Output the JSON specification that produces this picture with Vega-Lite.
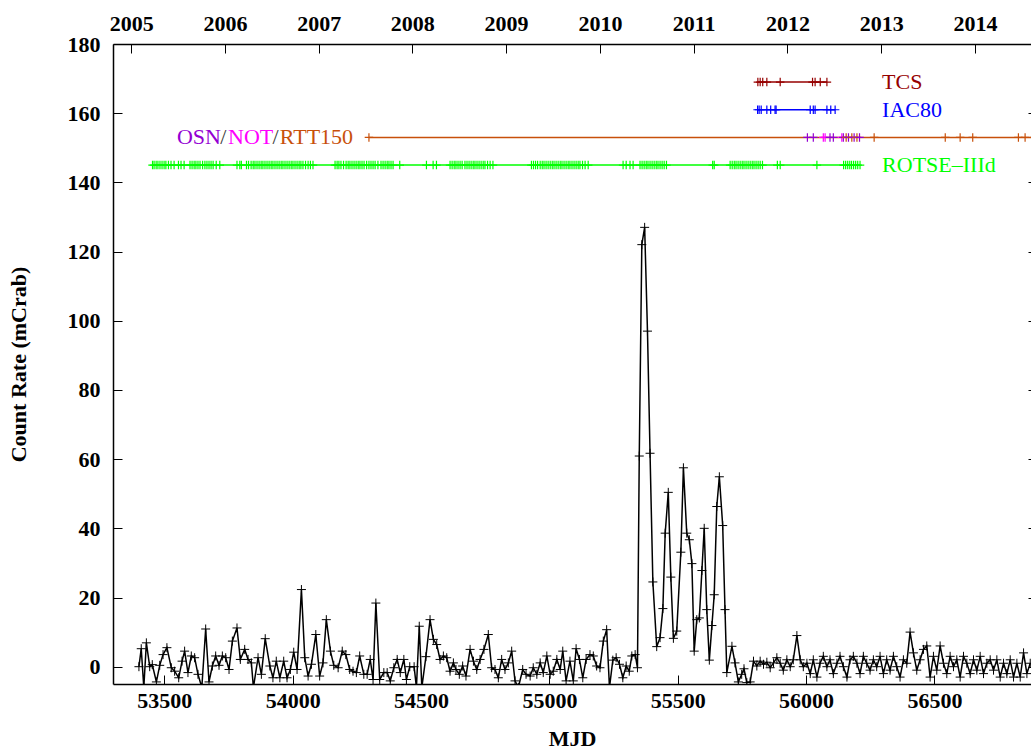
{
  "$schema": "https://vega.github.io/schema/vega-lite/v6.json",
  "width": 918,
  "height": 640,
  "autosize": "none",
  "padding": {"left": 113, "top": 44, "right": 0, "bottom": 67},
  "background": "white",
  "config": {
    "view": {"stroke": null},
    "font": "Liberation Serif",
    "axis": {
      "grid": false,
      "domainColor": "black",
      "domainWidth": 1.5,
      "tickColor": "black",
      "tickWidth": 1,
      "tickSize": -9,
      "labelFont": "Liberation Serif",
      "labelFontWeight": "bold",
      "labelFontSize": 22,
      "labelColor": "black",
      "titleFont": "Liberation Serif",
      "titleFontWeight": "bold",
      "titleFontSize": 22,
      "titleColor": "black"
    }
  },
  "datasets": {
    "lc": [
      {"mjd": 53401, "rate": 0}, {"mjd": 53410, "rate": 5.2}, {"mjd": 53420, "rate": -6}, {"mjd": 53430, "rate": 6.9},
      {"mjd": 53443, "rate": 0}, {"mjd": 53453, "rate": 0.6}, {"mjd": 53469, "rate": -4.4}, {"mjd": 53482, "rate": 0.4},
      {"mjd": 53495, "rate": 3.5}, {"mjd": 53510, "rate": 5.5}, {"mjd": 53527, "rate": -0.3}, {"mjd": 53540, "rate": -1.3},
      {"mjd": 53556, "rate": -3.2}, {"mjd": 53569, "rate": 1.6}, {"mjd": 53579, "rate": 4.5}, {"mjd": 53592, "rate": -1.7},
      {"mjd": 53605, "rate": 3.1}, {"mjd": 53618, "rate": 2.6}, {"mjd": 53631, "rate": -2.2}, {"mjd": 53646, "rate": -6},
      {"mjd": 53661, "rate": 10.9}, {"mjd": 53674, "rate": -4.4}, {"mjd": 53687, "rate": 0.2}, {"mjd": 53700, "rate": 3.1},
      {"mjd": 53713, "rate": 0.4}, {"mjd": 53726, "rate": 3.1}, {"mjd": 53739, "rate": 2.6}, {"mjd": 53752, "rate": -0.8},
      {"mjd": 53765, "rate": 7.4}, {"mjd": 53783, "rate": 11.2}, {"mjd": 53796, "rate": 2.1}, {"mjd": 53813, "rate": 5.0},
      {"mjd": 53826, "rate": 2.1}, {"mjd": 53839, "rate": 1.1}, {"mjd": 53847, "rate": -6}, {"mjd": 53865, "rate": 2.6},
      {"mjd": 53878, "rate": -2.2}, {"mjd": 53893, "rate": 8.1}, {"mjd": 53911, "rate": 0.2}, {"mjd": 53923, "rate": -3.2},
      {"mjd": 53936, "rate": 1.6}, {"mjd": 53950, "rate": -3.2}, {"mjd": 53965, "rate": 1.6}, {"mjd": 53978, "rate": -3.2},
      {"mjd": 53991, "rate": -0.8}, {"mjd": 54004, "rate": 4.2}, {"mjd": 54017, "rate": -0.8}, {"mjd": 54034, "rate": 22.3},
      {"mjd": 54047, "rate": 2.6}, {"mjd": 54060, "rate": -2.7}, {"mjd": 54073, "rate": 0.7}, {"mjd": 54090, "rate": 9.3},
      {"mjd": 54105, "rate": -2.7}, {"mjd": 54118, "rate": 1.1}, {"mjd": 54131, "rate": 13.6}, {"mjd": 54147, "rate": 4.5},
      {"mjd": 54160, "rate": 0.4}, {"mjd": 54177, "rate": -0.3}, {"mjd": 54193, "rate": 4.5}, {"mjd": 54207, "rate": 3.5},
      {"mjd": 54222, "rate": -0.8}, {"mjd": 54235, "rate": -1.3}, {"mjd": 54248, "rate": -1.7}, {"mjd": 54261, "rate": 3.1},
      {"mjd": 54277, "rate": -2.2}, {"mjd": 54290, "rate": -2.2}, {"mjd": 54302, "rate": 2.1}, {"mjd": 54313, "rate": -3.7},
      {"mjd": 54324, "rate": 18.4}, {"mjd": 54339, "rate": -3.7}, {"mjd": 54355, "rate": -1.7}, {"mjd": 54368, "rate": -1.7},
      {"mjd": 54380, "rate": -4.1}, {"mjd": 54394, "rate": -0.3}, {"mjd": 54407, "rate": 2.1}, {"mjd": 54419, "rate": -1.7},
      {"mjd": 54433, "rate": 2.1}, {"mjd": 54443, "rate": -3.7}, {"mjd": 54456, "rate": 0}, {"mjd": 54473, "rate": 0},
      {"mjd": 54482, "rate": -6}, {"mjd": 54493, "rate": 11.7}, {"mjd": 54503, "rate": -6}, {"mjd": 54519, "rate": 2.9},
      {"mjd": 54535, "rate": 13.6}, {"mjd": 54548, "rate": 7.9}, {"mjd": 54561, "rate": 6.4}, {"mjd": 54574, "rate": 2.1},
      {"mjd": 54587, "rate": 3.1}, {"mjd": 54600, "rate": 2.6}, {"mjd": 54613, "rate": -1.3}, {"mjd": 54626, "rate": 1.1},
      {"mjd": 54636, "rate": -0.8}, {"mjd": 54649, "rate": -2.2}, {"mjd": 54662, "rate": 0.2}, {"mjd": 54675, "rate": -2.7},
      {"mjd": 54691, "rate": 5.0}, {"mjd": 54704, "rate": 1.6}, {"mjd": 54717, "rate": -0.8}, {"mjd": 54730, "rate": 2.1},
      {"mjd": 54745, "rate": 5.0}, {"mjd": 54762, "rate": 9.3}, {"mjd": 54775, "rate": -0.3}, {"mjd": 54788, "rate": -0.8},
      {"mjd": 54801, "rate": -3.2}, {"mjd": 54814, "rate": 2.1}, {"mjd": 54827, "rate": -0.8}, {"mjd": 54840, "rate": 1.1},
      {"mjd": 54853, "rate": 4.5}, {"mjd": 54866, "rate": -4.1}, {"mjd": 54879, "rate": -6}, {"mjd": 54896, "rate": -0.8},
      {"mjd": 54909, "rate": -2.2}, {"mjd": 54925, "rate": -2.7}, {"mjd": 54937, "rate": -0.3}, {"mjd": 54951, "rate": -2.2},
      {"mjd": 54964, "rate": 1.1}, {"mjd": 54976, "rate": -1.7}, {"mjd": 54990, "rate": 3.1}, {"mjd": 55003, "rate": -2.2},
      {"mjd": 55015, "rate": -1.3}, {"mjd": 55029, "rate": 2.1}, {"mjd": 55042, "rate": -0.8}, {"mjd": 55052, "rate": 4.5},
      {"mjd": 55065, "rate": -4.1}, {"mjd": 55080, "rate": 1.6}, {"mjd": 55093, "rate": -4.1}, {"mjd": 55104, "rate": 5.2},
      {"mjd": 55117, "rate": 2.1}, {"mjd": 55130, "rate": -3.2}, {"mjd": 55143, "rate": 2.1}, {"mjd": 55158, "rate": 3.5},
      {"mjd": 55171, "rate": 3.1}, {"mjd": 55184, "rate": 0.2}, {"mjd": 55197, "rate": -0.3}, {"mjd": 55210, "rate": 7.4},
      {"mjd": 55223, "rate": 10.7}, {"mjd": 55234, "rate": -6}, {"mjd": 55247, "rate": 1.9}, {"mjd": 55260, "rate": 2.6},
      {"mjd": 55273, "rate": 0.7}, {"mjd": 55286, "rate": -3.2}, {"mjd": 55299, "rate": 0.2}, {"mjd": 55311, "rate": -1.3},
      {"mjd": 55321, "rate": 3.1}, {"mjd": 55334, "rate": 3.5}, {"mjd": 55343, "rate": -0.3}, {"mjd": 55350, "rate": 60.9},
      {"mjd": 55360, "rate": 122}, {"mjd": 55371, "rate": 127}, {"mjd": 55382, "rate": 97}, {"mjd": 55392, "rate": 61.7},
      {"mjd": 55403, "rate": 24.5}, {"mjd": 55418, "rate": 5.8}, {"mjd": 55431, "rate": 8.4}, {"mjd": 55442, "rate": 16.8},
      {"mjd": 55451, "rate": 38.6}, {"mjd": 55463, "rate": 50.4}, {"mjd": 55473, "rate": 25.9}, {"mjd": 55483, "rate": 8.2},
      {"mjd": 55496, "rate": 10.3}, {"mjd": 55512, "rate": 33.1}, {"mjd": 55522, "rate": 57.5}, {"mjd": 55535, "rate": 38.6},
      {"mjd": 55545, "rate": 36.7}, {"mjd": 55555, "rate": 29.8}, {"mjd": 55564, "rate": 4.5}, {"mjd": 55574, "rate": 13.6},
      {"mjd": 55584, "rate": 14.1}, {"mjd": 55594, "rate": 27.8}, {"mjd": 55603, "rate": 40}, {"mjd": 55613, "rate": 16.5},
      {"mjd": 55623, "rate": 1.9}, {"mjd": 55633, "rate": 11.9}, {"mjd": 55642, "rate": 20.8}, {"mjd": 55652, "rate": 46.3},
      {"mjd": 55662, "rate": 54.9}, {"mjd": 55675, "rate": 40.8}, {"mjd": 55684, "rate": 16.5}, {"mjd": 55691, "rate": -1.7},
      {"mjd": 55711, "rate": 5.9}, {"mjd": 55723, "rate": 1.1}, {"mjd": 55736, "rate": -4.4}, {"mjd": 55749, "rate": -2.2},
      {"mjd": 55758, "rate": -0.6}, {"mjd": 55769, "rate": -4.6}, {"mjd": 55782, "rate": -4.4}, {"mjd": 55795, "rate": 1.6},
      {"mjd": 55808, "rate": 0.2}, {"mjd": 55821, "rate": 1.6}, {"mjd": 55834, "rate": 0.7}, {"mjd": 55847, "rate": 1.3},
      {"mjd": 55860, "rate": -0.3}, {"mjd": 55873, "rate": 1.1}, {"mjd": 55886, "rate": 2.6}, {"mjd": 55899, "rate": 1},
      {"mjd": 55911, "rate": -1}, {"mjd": 55925, "rate": 2}, {"mjd": 55938, "rate": 0}, {"mjd": 55950, "rate": 2},
      {"mjd": 55964, "rate": 9}, {"mjd": 55977, "rate": 2}, {"mjd": 55989, "rate": 0}, {"mjd": 56003, "rate": 1},
      {"mjd": 56016, "rate": -2}, {"mjd": 56028, "rate": 2}, {"mjd": 56042, "rate": -3}, {"mjd": 56054, "rate": 1},
      {"mjd": 56067, "rate": 3}, {"mjd": 56081, "rate": 0}, {"mjd": 56093, "rate": 2}, {"mjd": 56106, "rate": -2},
      {"mjd": 56120, "rate": 1}, {"mjd": 56132, "rate": 3}, {"mjd": 56145, "rate": 0}, {"mjd": 56159, "rate": -3},
      {"mjd": 56171, "rate": 2}, {"mjd": 56184, "rate": 3}, {"mjd": 56198, "rate": 1}, {"mjd": 56210, "rate": -2},
      {"mjd": 56223, "rate": 3}, {"mjd": 56236, "rate": 1}, {"mjd": 56249, "rate": -1}, {"mjd": 56262, "rate": 2},
      {"mjd": 56275, "rate": 0}, {"mjd": 56288, "rate": 3}, {"mjd": 56301, "rate": -2}, {"mjd": 56314, "rate": 2},
      {"mjd": 56327, "rate": -1}, {"mjd": 56340, "rate": 3}, {"mjd": 56353, "rate": 0}, {"mjd": 56366, "rate": -3},
      {"mjd": 56379, "rate": 2}, {"mjd": 56392, "rate": 1}, {"mjd": 56405, "rate": 10}, {"mjd": 56418, "rate": 4},
      {"mjd": 56431, "rate": -1}, {"mjd": 56444, "rate": 2}, {"mjd": 56457, "rate": 5}, {"mjd": 56470, "rate": 6},
      {"mjd": 56483, "rate": -3}, {"mjd": 56496, "rate": 3}, {"mjd": 56509, "rate": -1}, {"mjd": 56522, "rate": 6},
      {"mjd": 56535, "rate": 1}, {"mjd": 56548, "rate": -2}, {"mjd": 56561, "rate": 3}, {"mjd": 56574, "rate": 0},
      {"mjd": 56587, "rate": 2}, {"mjd": 56600, "rate": -3}, {"mjd": 56613, "rate": 3}, {"mjd": 56626, "rate": 1},
      {"mjd": 56639, "rate": -2}, {"mjd": 56652, "rate": 2}, {"mjd": 56665, "rate": -1}, {"mjd": 56678, "rate": 3},
      {"mjd": 56691, "rate": -2}, {"mjd": 56704, "rate": 1}, {"mjd": 56717, "rate": 2}, {"mjd": 56730, "rate": -1},
      {"mjd": 56743, "rate": 2}, {"mjd": 56756, "rate": -3}, {"mjd": 56769, "rate": 1}, {"mjd": 56782, "rate": -2},
      {"mjd": 56795, "rate": 2}, {"mjd": 56808, "rate": -3}, {"mjd": 56821, "rate": 1}, {"mjd": 56834, "rate": -3},
      {"mjd": 56847, "rate": 4}, {"mjd": 56860, "rate": -2}, {"mjd": 56873, "rate": 1}
    ],
    "tracks": [
      {"track": "TCS", "level": 169, "lineKey": "TCS"},
      {"track": "IAC80", "level": 161, "lineKey": "IAC80"},
      {"track": "OSN/NOT/RTT150", "level": 153, "lineKey": "RTT150"},
      {"track": "ROTSE", "level": 145, "lineKey": "ROTSE"}
    ],
    "obs": [
      {"track": "TCS", "inst": "TCS", "mjd": 55812}, {"track": "TCS", "inst": "TCS", "mjd": 55821},
      {"track": "TCS", "inst": "TCS", "mjd": 55831}, {"track": "TCS", "inst": "TCS", "mjd": 55847},
      {"track": "TCS", "inst": "TCS", "mjd": 55899}, {"track": "TCS", "inst": "TCS", "mjd": 56025},
      {"track": "TCS", "inst": "TCS", "mjd": 56035}, {"track": "TCS", "inst": "TCS", "mjd": 56055},
      {"track": "TCS", "inst": "TCS", "mjd": 56081},
      {"track": "IAC80", "inst": "IAC80", "mjd": 55811}, {"track": "IAC80", "inst": "IAC80", "mjd": 55817},
      {"track": "IAC80", "inst": "IAC80", "mjd": 55825}, {"track": "IAC80", "inst": "IAC80", "mjd": 55847},
      {"track": "IAC80", "inst": "IAC80", "mjd": 55862}, {"track": "IAC80", "inst": "IAC80", "mjd": 55879},
      {"track": "IAC80", "inst": "IAC80", "mjd": 55883}, {"track": "IAC80", "inst": "IAC80", "mjd": 56016},
      {"track": "IAC80", "inst": "IAC80", "mjd": 56028}, {"track": "IAC80", "inst": "IAC80", "mjd": 56035},
      {"track": "IAC80", "inst": "IAC80", "mjd": 56081}, {"track": "IAC80", "inst": "IAC80", "mjd": 56096},
      {"track": "IAC80", "inst": "IAC80", "mjd": 56113},
      {"track": "OSN/NOT/RTT150", "inst": "RTT150", "mjd": 54297},
      {"track": "OSN/NOT/RTT150", "inst": "OSN", "mjd": 56005}, {"track": "OSN/NOT/RTT150", "inst": "OSN", "mjd": 56028},
      {"track": "OSN/NOT/RTT150", "inst": "NOT", "mjd": 56067}, {"track": "OSN/NOT/RTT150", "inst": "NOT", "mjd": 56074},
      {"track": "OSN/NOT/RTT150", "inst": "OSN", "mjd": 56093}, {"track": "OSN/NOT/RTT150", "inst": "OSN", "mjd": 56106},
      {"track": "OSN/NOT/RTT150", "inst": "NOT", "mjd": 56139}, {"track": "OSN/NOT/RTT150", "inst": "OSN", "mjd": 56145},
      {"track": "OSN/NOT/RTT150", "inst": "RTT150", "mjd": 56156}, {"track": "OSN/NOT/RTT150", "inst": "OSN", "mjd": 56165},
      {"track": "OSN/NOT/RTT150", "inst": "RTT150", "mjd": 56178}, {"track": "OSN/NOT/RTT150", "inst": "OSN", "mjd": 56187},
      {"track": "OSN/NOT/RTT150", "inst": "RTT150", "mjd": 56198}, {"track": "OSN/NOT/RTT150", "inst": "OSN", "mjd": 56208},
      {"track": "OSN/NOT/RTT150", "inst": "RTT150", "mjd": 56265}, {"track": "OSN/NOT/RTT150", "inst": "RTT150", "mjd": 56542},
      {"track": "OSN/NOT/RTT150", "inst": "RTT150", "mjd": 56600}, {"track": "OSN/NOT/RTT150", "inst": "RTT150", "mjd": 56649},
      {"track": "OSN/NOT/RTT150", "inst": "RTT150", "mjd": 56827}, {"track": "OSN/NOT/RTT150", "inst": "RTT150", "mjd": 56853},
      {"track": "OSN/NOT/RTT150", "inst": "RTT150", "mjd": 56890},
      {"track": "ROTSE", "inst": "ROTSE", "mjd": 53454}, {"track": "ROTSE", "inst": "ROTSE", "mjd": 53460},
      {"track": "ROTSE", "inst": "ROTSE", "mjd": 53468}, {"track": "ROTSE", "inst": "ROTSE", "mjd": 53475},
      {"track": "ROTSE", "inst": "ROTSE", "mjd": 53483}, {"track": "ROTSE", "inst": "ROTSE", "mjd": 53491},
      {"track": "ROTSE", "inst": "ROTSE", "mjd": 53499}, {"track": "ROTSE", "inst": "ROTSE", "mjd": 53506},
      {"track": "ROTSE", "inst": "ROTSE", "mjd": 53516}, {"track": "ROTSE", "inst": "ROTSE", "mjd": 53526},
      {"track": "ROTSE", "inst": "ROTSE", "mjd": 53538}, {"track": "ROTSE", "inst": "ROTSE", "mjd": 53555},
      {"track": "ROTSE", "inst": "ROTSE", "mjd": 53565}, {"track": "ROTSE", "inst": "ROTSE", "mjd": 53577},
      {"track": "ROTSE", "inst": "ROTSE", "mjd": 53600}, {"track": "ROTSE", "inst": "ROTSE", "mjd": 53608},
      {"track": "ROTSE", "inst": "ROTSE", "mjd": 53616}, {"track": "ROTSE", "inst": "ROTSE", "mjd": 53623},
      {"track": "ROTSE", "inst": "ROTSE", "mjd": 53631}, {"track": "ROTSE", "inst": "ROTSE", "mjd": 53639},
      {"track": "ROTSE", "inst": "ROTSE", "mjd": 53649}, {"track": "ROTSE", "inst": "ROTSE", "mjd": 53658},
      {"track": "ROTSE", "inst": "ROTSE", "mjd": 53666}, {"track": "ROTSE", "inst": "ROTSE", "mjd": 53674},
      {"track": "ROTSE", "inst": "ROTSE", "mjd": 53682}, {"track": "ROTSE", "inst": "ROTSE", "mjd": 53690},
      {"track": "ROTSE", "inst": "ROTSE", "mjd": 53702}, {"track": "ROTSE", "inst": "ROTSE", "mjd": 53716},
      {"track": "ROTSE", "inst": "ROTSE", "mjd": 53783}, {"track": "ROTSE", "inst": "ROTSE", "mjd": 53794},
      {"track": "ROTSE", "inst": "ROTSE", "mjd": 53800}, {"track": "ROTSE", "inst": "ROTSE", "mjd": 53820},
      {"track": "ROTSE", "inst": "ROTSE", "mjd": 53828}, {"track": "ROTSE", "inst": "ROTSE", "mjd": 53838},
      {"track": "ROTSE", "inst": "ROTSE", "mjd": 53846}, {"track": "ROTSE", "inst": "ROTSE", "mjd": 53853},
      {"track": "ROTSE", "inst": "ROTSE", "mjd": 53861}, {"track": "ROTSE", "inst": "ROTSE", "mjd": 53869},
      {"track": "ROTSE", "inst": "ROTSE", "mjd": 53877}, {"track": "ROTSE", "inst": "ROTSE", "mjd": 53884},
      {"track": "ROTSE", "inst": "ROTSE", "mjd": 53892}, {"track": "ROTSE", "inst": "ROTSE", "mjd": 53900},
      {"track": "ROTSE", "inst": "ROTSE", "mjd": 53908}, {"track": "ROTSE", "inst": "ROTSE", "mjd": 53916},
      {"track": "ROTSE", "inst": "ROTSE", "mjd": 53923}, {"track": "ROTSE", "inst": "ROTSE", "mjd": 53931},
      {"track": "ROTSE", "inst": "ROTSE", "mjd": 53939}, {"track": "ROTSE", "inst": "ROTSE", "mjd": 53947},
      {"track": "ROTSE", "inst": "ROTSE", "mjd": 53955}, {"track": "ROTSE", "inst": "ROTSE", "mjd": 53962},
      {"track": "ROTSE", "inst": "ROTSE", "mjd": 53970}, {"track": "ROTSE", "inst": "ROTSE", "mjd": 53978},
      {"track": "ROTSE", "inst": "ROTSE", "mjd": 53986}, {"track": "ROTSE", "inst": "ROTSE", "mjd": 53994},
      {"track": "ROTSE", "inst": "ROTSE", "mjd": 54001}, {"track": "ROTSE", "inst": "ROTSE", "mjd": 54009},
      {"track": "ROTSE", "inst": "ROTSE", "mjd": 54017}, {"track": "ROTSE", "inst": "ROTSE", "mjd": 54025},
      {"track": "ROTSE", "inst": "ROTSE", "mjd": 54032}, {"track": "ROTSE", "inst": "ROTSE", "mjd": 54040},
      {"track": "ROTSE", "inst": "ROTSE", "mjd": 54050}, {"track": "ROTSE", "inst": "ROTSE", "mjd": 54060},
      {"track": "ROTSE", "inst": "ROTSE", "mjd": 54069}, {"track": "ROTSE", "inst": "ROTSE", "mjd": 54079},
      {"track": "ROTSE", "inst": "ROTSE", "mjd": 54165}, {"track": "ROTSE", "inst": "ROTSE", "mjd": 54173},
      {"track": "ROTSE", "inst": "ROTSE", "mjd": 54180}, {"track": "ROTSE", "inst": "ROTSE", "mjd": 54188},
      {"track": "ROTSE", "inst": "ROTSE", "mjd": 54198}, {"track": "ROTSE", "inst": "ROTSE", "mjd": 54208},
      {"track": "ROTSE", "inst": "ROTSE", "mjd": 54216}, {"track": "ROTSE", "inst": "ROTSE", "mjd": 54223},
      {"track": "ROTSE", "inst": "ROTSE", "mjd": 54231}, {"track": "ROTSE", "inst": "ROTSE", "mjd": 54239},
      {"track": "ROTSE", "inst": "ROTSE", "mjd": 54247}, {"track": "ROTSE", "inst": "ROTSE", "mjd": 54255},
      {"track": "ROTSE", "inst": "ROTSE", "mjd": 54262}, {"track": "ROTSE", "inst": "ROTSE", "mjd": 54270},
      {"track": "ROTSE", "inst": "ROTSE", "mjd": 54278}, {"track": "ROTSE", "inst": "ROTSE", "mjd": 54288},
      {"track": "ROTSE", "inst": "ROTSE", "mjd": 54297}, {"track": "ROTSE", "inst": "ROTSE", "mjd": 54305},
      {"track": "ROTSE", "inst": "ROTSE", "mjd": 54313}, {"track": "ROTSE", "inst": "ROTSE", "mjd": 54321},
      {"track": "ROTSE", "inst": "ROTSE", "mjd": 54332}, {"track": "ROTSE", "inst": "ROTSE", "mjd": 54344},
      {"track": "ROTSE", "inst": "ROTSE", "mjd": 54352}, {"track": "ROTSE", "inst": "ROTSE", "mjd": 54360},
      {"track": "ROTSE", "inst": "ROTSE", "mjd": 54368}, {"track": "ROTSE", "inst": "ROTSE", "mjd": 54375},
      {"track": "ROTSE", "inst": "ROTSE", "mjd": 54383}, {"track": "ROTSE", "inst": "ROTSE", "mjd": 54391},
      {"track": "ROTSE", "inst": "ROTSE", "mjd": 54417}, {"track": "ROTSE", "inst": "ROTSE", "mjd": 54521},
      {"track": "ROTSE", "inst": "ROTSE", "mjd": 54547}, {"track": "ROTSE", "inst": "ROTSE", "mjd": 54560},
      {"track": "ROTSE", "inst": "ROTSE", "mjd": 54613}, {"track": "ROTSE", "inst": "ROTSE", "mjd": 54621},
      {"track": "ROTSE", "inst": "ROTSE", "mjd": 54629}, {"track": "ROTSE", "inst": "ROTSE", "mjd": 54636},
      {"track": "ROTSE", "inst": "ROTSE", "mjd": 54644}, {"track": "ROTSE", "inst": "ROTSE", "mjd": 54652},
      {"track": "ROTSE", "inst": "ROTSE", "mjd": 54660}, {"track": "ROTSE", "inst": "ROTSE", "mjd": 54671},
      {"track": "ROTSE", "inst": "ROTSE", "mjd": 54679}, {"track": "ROTSE", "inst": "ROTSE", "mjd": 54687},
      {"track": "ROTSE", "inst": "ROTSE", "mjd": 54695}, {"track": "ROTSE", "inst": "ROTSE", "mjd": 54703},
      {"track": "ROTSE", "inst": "ROTSE", "mjd": 54710}, {"track": "ROTSE", "inst": "ROTSE", "mjd": 54718},
      {"track": "ROTSE", "inst": "ROTSE", "mjd": 54726}, {"track": "ROTSE", "inst": "ROTSE", "mjd": 54734},
      {"track": "ROTSE", "inst": "ROTSE", "mjd": 54742}, {"track": "ROTSE", "inst": "ROTSE", "mjd": 54749},
      {"track": "ROTSE", "inst": "ROTSE", "mjd": 54759}, {"track": "ROTSE", "inst": "ROTSE", "mjd": 54769},
      {"track": "ROTSE", "inst": "ROTSE", "mjd": 54780}, {"track": "ROTSE", "inst": "ROTSE", "mjd": 54930},
      {"track": "ROTSE", "inst": "ROTSE", "mjd": 54938}, {"track": "ROTSE", "inst": "ROTSE", "mjd": 54946},
      {"track": "ROTSE", "inst": "ROTSE", "mjd": 54954}, {"track": "ROTSE", "inst": "ROTSE", "mjd": 54964},
      {"track": "ROTSE", "inst": "ROTSE", "mjd": 54972}, {"track": "ROTSE", "inst": "ROTSE", "mjd": 54979},
      {"track": "ROTSE", "inst": "ROTSE", "mjd": 54987}, {"track": "ROTSE", "inst": "ROTSE", "mjd": 54995},
      {"track": "ROTSE", "inst": "ROTSE", "mjd": 55003}, {"track": "ROTSE", "inst": "ROTSE", "mjd": 55011},
      {"track": "ROTSE", "inst": "ROTSE", "mjd": 55018}, {"track": "ROTSE", "inst": "ROTSE", "mjd": 55026},
      {"track": "ROTSE", "inst": "ROTSE", "mjd": 55034}, {"track": "ROTSE", "inst": "ROTSE", "mjd": 55042},
      {"track": "ROTSE", "inst": "ROTSE", "mjd": 55049}, {"track": "ROTSE", "inst": "ROTSE", "mjd": 55057},
      {"track": "ROTSE", "inst": "ROTSE", "mjd": 55065}, {"track": "ROTSE", "inst": "ROTSE", "mjd": 55073},
      {"track": "ROTSE", "inst": "ROTSE", "mjd": 55080}, {"track": "ROTSE", "inst": "ROTSE", "mjd": 55088},
      {"track": "ROTSE", "inst": "ROTSE", "mjd": 55096}, {"track": "ROTSE", "inst": "ROTSE", "mjd": 55104},
      {"track": "ROTSE", "inst": "ROTSE", "mjd": 55112}, {"track": "ROTSE", "inst": "ROTSE", "mjd": 55119},
      {"track": "ROTSE", "inst": "ROTSE", "mjd": 55129}, {"track": "ROTSE", "inst": "ROTSE", "mjd": 55139},
      {"track": "ROTSE", "inst": "ROTSE", "mjd": 55151}, {"track": "ROTSE", "inst": "ROTSE", "mjd": 55287},
      {"track": "ROTSE", "inst": "ROTSE", "mjd": 55299}, {"track": "ROTSE", "inst": "ROTSE", "mjd": 55314},
      {"track": "ROTSE", "inst": "ROTSE", "mjd": 55326}, {"track": "ROTSE", "inst": "ROTSE", "mjd": 55353},
      {"track": "ROTSE", "inst": "ROTSE", "mjd": 55361}, {"track": "ROTSE", "inst": "ROTSE", "mjd": 55369},
      {"track": "ROTSE", "inst": "ROTSE", "mjd": 55377}, {"track": "ROTSE", "inst": "ROTSE", "mjd": 55384},
      {"track": "ROTSE", "inst": "ROTSE", "mjd": 55392}, {"track": "ROTSE", "inst": "ROTSE", "mjd": 55400},
      {"track": "ROTSE", "inst": "ROTSE", "mjd": 55408}, {"track": "ROTSE", "inst": "ROTSE", "mjd": 55416},
      {"track": "ROTSE", "inst": "ROTSE", "mjd": 55423}, {"track": "ROTSE", "inst": "ROTSE", "mjd": 55431},
      {"track": "ROTSE", "inst": "ROTSE", "mjd": 55439}, {"track": "ROTSE", "inst": "ROTSE", "mjd": 55447},
      {"track": "ROTSE", "inst": "ROTSE", "mjd": 55456}, {"track": "ROTSE", "inst": "ROTSE", "mjd": 55636},
      {"track": "ROTSE", "inst": "ROTSE", "mjd": 55642}, {"track": "ROTSE", "inst": "ROTSE", "mjd": 55704},
      {"track": "ROTSE", "inst": "ROTSE", "mjd": 55712}, {"track": "ROTSE", "inst": "ROTSE", "mjd": 55720},
      {"track": "ROTSE", "inst": "ROTSE", "mjd": 55727}, {"track": "ROTSE", "inst": "ROTSE", "mjd": 55735},
      {"track": "ROTSE", "inst": "ROTSE", "mjd": 55743}, {"track": "ROTSE", "inst": "ROTSE", "mjd": 55751},
      {"track": "ROTSE", "inst": "ROTSE", "mjd": 55758}, {"track": "ROTSE", "inst": "ROTSE", "mjd": 55766},
      {"track": "ROTSE", "inst": "ROTSE", "mjd": 55774}, {"track": "ROTSE", "inst": "ROTSE", "mjd": 55782},
      {"track": "ROTSE", "inst": "ROTSE", "mjd": 55790}, {"track": "ROTSE", "inst": "ROTSE", "mjd": 55797},
      {"track": "ROTSE", "inst": "ROTSE", "mjd": 55805}, {"track": "ROTSE", "inst": "ROTSE", "mjd": 55813},
      {"track": "ROTSE", "inst": "ROTSE", "mjd": 55821}, {"track": "ROTSE", "inst": "ROTSE", "mjd": 55830},
      {"track": "ROTSE", "inst": "ROTSE", "mjd": 55888}, {"track": "ROTSE", "inst": "ROTSE", "mjd": 55899},
      {"track": "ROTSE", "inst": "ROTSE", "mjd": 56042}, {"track": "ROTSE", "inst": "ROTSE", "mjd": 56146},
      {"track": "ROTSE", "inst": "ROTSE", "mjd": 56154}, {"track": "ROTSE", "inst": "ROTSE", "mjd": 56162},
      {"track": "ROTSE", "inst": "ROTSE", "mjd": 56170}, {"track": "ROTSE", "inst": "ROTSE", "mjd": 56177},
      {"track": "ROTSE", "inst": "ROTSE", "mjd": 56185}, {"track": "ROTSE", "inst": "ROTSE", "mjd": 56193},
      {"track": "ROTSE", "inst": "ROTSE", "mjd": 56201}, {"track": "ROTSE", "inst": "ROTSE", "mjd": 56210}
    ],
    "labels": [
      {"text": "TCS", "key": "TCS", "mjd": 56296, "level": 169},
      {"text": "IAC80", "key": "IAC80", "mjd": 56296, "level": 161},
      {"text": "ROTSE–IIId", "key": "ROTSE", "mjd": 56296, "level": 145},
      {"text": "OSN", "key": "OSN", "mjd": 53549, "level": 153},
      {"text": "/", "key": "sep", "mjd": 53718, "level": 153},
      {"text": "NOT", "key": "NOT", "mjd": 53748, "level": 153},
      {"text": "/", "key": "sep", "mjd": 53921, "level": 153},
      {"text": "RTT150", "key": "RTT150", "mjd": 53950, "level": 153}
    ]
  },
  "resolve": {"axis": {"x": "independent", "y": "independent"}},
  "layer": [
    {
      "data": {"name": "obs"},
      "transform": [
        {"lookup": "track", "from": {"data": {"name": "tracks"}, "key": "track", "fields": ["level", "lineKey"]}}
      ],
      "mark": {"type": "line", "strokeWidth": 1.5, "clip": true},
      "encoding": {
        "x": {"field": "mjd", "type": "quantitative", "scale": {"domain": [53300, 56876], "nice": false, "zero": false}, "axis": null},
        "y": {"field": "level", "type": "quantitative", "scale": {"domain": [-5, 180], "nice": false, "zero": false}, "axis": null},
        "detail": {"field": "track"},
        "color": {
          "field": "lineKey", "type": "nominal", "legend": null,
          "scale": {"domain": ["TCS", "IAC80", "OSN", "NOT", "RTT150", "ROTSE", "sep"],
                    "range": ["#960000", "#0000ff", "#9400d3", "#ff00ff", "#c8500a", "#00ff00", "#404040"]}
        }
      }
    },
    {
      "data": {"name": "obs"},
      "transform": [
        {"lookup": "track", "from": {"data": {"name": "tracks"}, "key": "track", "fields": ["level"]}}
      ],
      "mark": {"type": "point", "shape": "M-1,0H1M0,-1V1", "size": 72, "filled": false, "strokeWidth": 1.2, "opacity": 1, "clip": true},
      "encoding": {
        "x": {"field": "mjd", "type": "quantitative", "axis": null},
        "y": {"field": "level", "type": "quantitative", "axis": null},
        "color": {"field": "inst", "type": "nominal", "legend": null}
      }
    },
    {
      "data": {"name": "labels"},
      "mark": {"type": "text", "align": "left", "baseline": "middle", "font": "Liberation Serif", "fontSize": 22},
      "encoding": {
        "x": {"field": "mjd", "type": "quantitative", "axis": null},
        "y": {"field": "level", "type": "quantitative", "axis": null},
        "text": {"field": "text"},
        "color": {"field": "key", "type": "nominal", "legend": null}
      }
    },
    {
      "data": {"name": "lc"},
      "mark": {"type": "line", "color": "black", "strokeWidth": 1.5, "clip": true},
      "encoding": {
        "x": {
          "field": "mjd", "type": "quantitative",
          "axis": {"orient": "bottom", "values": [53500, 54000, 54500, 55000, 55500, 56000, 56500], "format": "d",
                   "title": "MJD", "labelPadding": 15, "titlePadding": 17}
        },
        "y": {
          "field": "rate", "type": "quantitative",
          "axis": {"orient": "left", "values": [0, 20, 40, 60, 80, 100, 120, 140, 160, 180],
                   "title": "Count Rate (mCrab)", "labelPadding": 22, "titlePadding": 37}
        }
      }
    },
    {
      "data": {"name": "lc"},
      "mark": {"type": "point", "shape": "M-1,0H1M0,-1V1", "size": 81, "filled": false, "color": "black", "strokeWidth": 1, "opacity": 1, "clip": true},
      "encoding": {
        "x": {
          "field": "mjd", "type": "quantitative",
          "axis": {"orient": "top", "values": [53371, 53736, 54101, 54466, 54831, 55197, 55562, 55927, 56293, 56658],
                   "labelExpr": "round((datum.value - 53371) / 365.25) + 2005", "title": null, "labelPadding": 18}
        },
        "y": {
          "field": "rate", "type": "quantitative",
          "axis": {"orient": "right", "values": [0, 20, 40, 60, 80, 100, 120, 140, 160, 180],
                   "labels": false, "domain": false, "title": null, "offset": 6}
        }
      }
    }
  ]
}
